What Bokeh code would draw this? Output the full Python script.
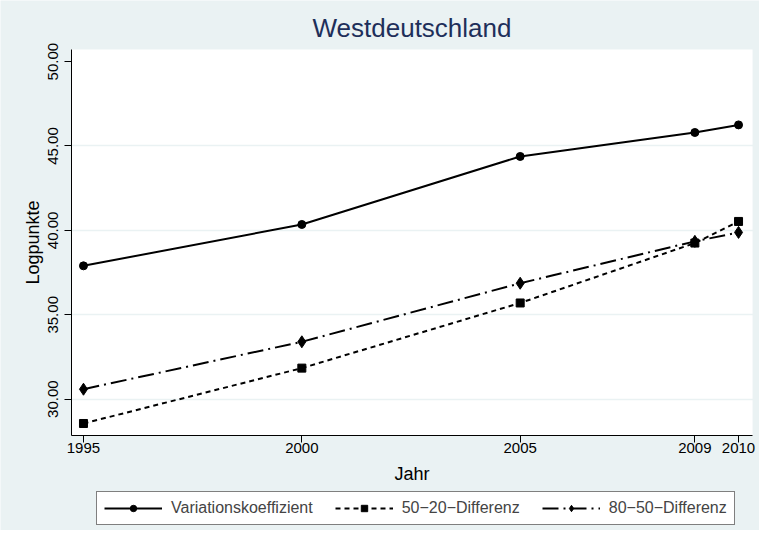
from bokeh.plotting import figure
from bokeh.models import (FixedTicker, NumeralTickFormatter, Legend, LegendItem,
                          BoxAnnotation, Label)
from bokeh.embed import file_html
from bokeh.resources import INLINE

years = [1995, 2000, 2005, 2009, 2010]
variationskoeffizient = [37.9, 40.35, 44.38, 45.8, 46.25]
diff_50_20 = [28.56, 31.84, 35.70, 39.25, 40.53]
diff_80_50 = [30.59, 33.40, 36.87, 39.35, 39.88]
x_ticks = [1995, 2000, 2005, 2009, 2010]
y_ticks = [30, 35, 40, 45, 50]
grid_ticks = [30, 35, 40, 45]
labels = ["Variationskoeffizient", "50\u221220\u2212Differenz", "80\u221250\u2212Differenz"]
title_text = "Westdeutschland"

FONT = "Liberation Sans"
BG = "#EAF2F3"

# plot area limits (data units) and the full canvas limits
X_LO, X_HI = 1994.725, 2010.321
Y_LO, Y_HI = 27.85, 50.717

p = figure(width=759, height=530, min_border=0,
           min_border_left=0, min_border_right=0, min_border_top=0, min_border_bottom=0,
           x_range=(1993.10, 2010.48), y_range=(22.22, 53.62),
           output_backend="svg", toolbar_location=None)

p.border_fill_color = BG
p.background_fill_color = BG
p.outline_line_color = None

# white plot region
p.add_layout(BoxAnnotation(left=X_LO, right=X_HI, bottom=Y_LO, top=Y_HI,
                           fill_color="white", fill_alpha=1, line_color=None,
                           level="image"))

# title
p.add_layout(Label(x=411.5, y=503, x_units="screen", y_units="screen", text=title_text,
                   text_font=FONT, text_font_size="26px", text_color="#1E2F5A",
                   text_align="center", text_baseline="alphabetic"))

for ax in (p.xaxis[0], p.yaxis[0]):
    ax.axis_line_color = "black"
    ax.axis_line_width = 1
    ax.major_tick_line_color = "black"
    ax.major_tick_out = 7
    ax.major_tick_in = 0
    ax.minor_tick_line_color = None
    ax.major_label_text_font = FONT
    ax.major_label_text_font_size = "15px"
    ax.major_label_text_color = "black"
    ax.axis_label_text_font = FONT
    ax.axis_label_text_font_size = "18px"
    ax.axis_label_text_font_style = "normal"
    ax.axis_label_text_color = "black"

xa = p.xaxis[0]
xa.fixed_location = Y_LO
xa.bounds = (X_LO, X_HI)
xa.ticker = FixedTicker(ticks=x_ticks)
xa.axis_label = "Jahr"
xa.major_label_standoff = 1
xa.axis_label_standoff = 7

ya = p.yaxis[0]
ya.fixed_location = X_LO
ya.bounds = (Y_LO, Y_HI)
ya.ticker = FixedTicker(ticks=y_ticks)
ya.formatter = NumeralTickFormatter(format="0.00")
ya.major_label_orientation = "vertical"
ya.axis_label = "Logpunkte"
ya.major_label_standoff = 6
ya.axis_label_standoff = 3

p.xgrid.grid_line_color = None
p.ygrid.ticker = FixedTicker(ticks=grid_ticks)
p.ygrid.grid_line_color = BG
p.ygrid.grid_line_width = 1.5

l1 = p.line(years, variationskoeffizient, line_color="black", line_width=2)
m1 = p.scatter(years, variationskoeffizient, marker="circle", size=8, color="black")
l2 = p.line(years, diff_50_20, line_color="black", line_width=2, line_dash="5 4")
m2 = p.scatter(years, diff_50_20, marker="square", size=8, color="black")
l3 = p.line(years, diff_80_50, line_color="black", line_width=2, line_dash="16 5 2 5")
m3 = p.scatter(years, diff_80_50, marker="diamond", size=12, color="black")

legend = Legend(items=[LegendItem(label=labels[0], renderers=[l1, m1]),
                       LegendItem(label=labels[1], renderers=[l2, m2]),
                       LegendItem(label=labels[2], renderers=[l3, m3])],
                location=(96, 5), orientation="horizontal")
legend.glyph_width = 58
legend.glyph_height = 16
legend.label_height = 16
legend.label_standoff = 9
legend.spacing = 22
legend.padding = 7
legend.margin = 0
legend.label_text_font = FONT
legend.label_text_font_size = "16px"
legend.border_line_color = "black"
legend.border_line_width = 1
legend.background_fill_color = "white"
legend.background_fill_alpha = 1
p.add_layout(legend, "center")

open("out.html", "w").write(file_html(p, INLINE))
